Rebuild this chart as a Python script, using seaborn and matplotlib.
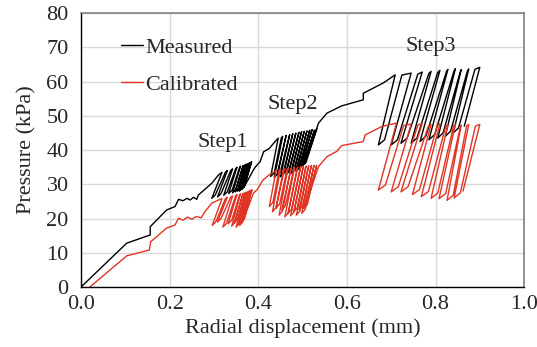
import pandas as pd
import matplotlib
matplotlib.use('Agg')
import matplotlib.pyplot as plt
import seaborn as sns

# ---- Measured (black) ----
meas_ramp_x = [0.0, 0.103, 0.156, 0.156, 0.193, 0.212, 0.220, 0.230, 0.239, 0.246, 0.254, 0.261, 0.265, 0.295, 0.310]
meas_ramp_y = [0.0, 12.8, 15.2, 17.6, 22.5, 23.5, 25.6, 25.2, 25.9, 25.4, 26.2, 25.6, 26.9, 30.3, 32.7]

# each cycle: peak -> valley (unloading) -> foot -> reload top -> next peak
meas_s1_peak_x = [0.318, 0.330, 0.342, 0.352, 0.360, 0.366, 0.371, 0.375, 0.379, 0.382, 0.385]
meas_s1_peak_y = [33.5, 34.0, 34.5, 35.0, 35.3, 35.5, 35.8, 36.0, 36.2, 36.4, 36.6]
meas_s1_val_x = [0.295, 0.308, 0.322, 0.333, 0.342, 0.348, 0.353, 0.357, 0.360, 0.363, 0.367]
meas_s1_val_y = [25.9, 26.3, 26.8, 27.3, 27.5, 27.8, 28.0, 28.0, 28.3, 28.5, 29.0]
meas_s1_foot_x = [0.303, 0.316, 0.330, 0.341, 0.349, 0.355, 0.359, 0.363, 0.366, 0.369]
meas_s1_foot_y = [26.9, 27.3, 27.8, 28.3, 28.5, 28.8, 29.0, 29.0, 29.3, 29.5]
meas_s1_top_x = [0.326, 0.338, 0.349, 0.358, 0.365, 0.370, 0.374, 0.378, 0.381, 0.384]
meas_s1_top_y = [33.6, 34.1, 34.6, 35.0, 35.2, 35.5, 35.7, 35.9, 36.1, 36.3]

meas_t12_x = [0.389, 0.393, 0.404, 0.412, 0.425, 0.438]
meas_t12_y = [34.2, 35.0, 36.6, 39.5, 40.5, 42.5]

meas_s2_peak_x = [0.445, 0.455, 0.463, 0.471, 0.478, 0.485, 0.492, 0.498, 0.504, 0.510, 0.516, 0.522, 0.527, 0.532]
meas_s2_peak_y = [43.5, 44.0, 44.3, 44.5, 44.8, 45.0, 45.2, 45.4, 45.5, 45.6, 45.8, 46.0, 45.8, 46.2]
meas_s2_val_x = [0.428, 0.436, 0.442, 0.450, 0.456, 0.462, 0.468, 0.474, 0.480, 0.485, 0.490, 0.495, 0.500, 0.505]
meas_s2_val_y = [32.3, 32.0, 32.7, 32.2, 33.2, 32.8, 33.7, 33.2, 34.2, 33.8, 34.5, 35.0, 35.5, 36.0]
meas_s2_foot_x = [0.436, 0.444, 0.450, 0.458, 0.464, 0.470, 0.476, 0.482, 0.488, 0.493, 0.498, 0.503, 0.508]
meas_s2_foot_y = [33.3, 33.0, 33.7, 33.2, 34.2, 33.8, 34.7, 34.2, 35.2, 34.8, 35.5, 36.0, 36.5]
meas_s2_top_x = [0.452, 0.462, 0.470, 0.477, 0.484, 0.491, 0.497, 0.503, 0.509, 0.515, 0.520, 0.526, 0.531]
meas_s2_top_y = [43.6, 43.9, 44.2, 44.5, 44.7, 44.9, 45.1, 45.2, 45.3, 45.5, 45.7, 45.6, 45.9]

meas_t23_x = [0.536, 0.555, 0.588, 0.637, 0.637, 0.682]
meas_t23_y = [47.9, 50.8, 52.9, 54.7, 56.6, 59.6]

meas_s3_peak_x = [0.709, 0.745, 0.770, 0.790, 0.810, 0.828, 0.845, 0.858, 0.875, 0.900]
meas_s3_peak_y = [62.0, 62.5, 62.8, 63.0, 63.3, 63.6, 63.8, 63.5, 63.7, 64.2]
meas_s3_val_x = [0.671, 0.700, 0.722, 0.745, 0.765, 0.785, 0.805, 0.822, 0.840, 0.865]
meas_s3_val_y = [41.5, 41.5, 42.0, 42.0, 42.5, 43.0, 43.5, 44.0, 45.0, 47.0]
meas_s3_foot_x = [0.685, 0.714, 0.736, 0.758, 0.778, 0.798, 0.817, 0.834, 0.852]
meas_s3_foot_y = [43.0, 43.0, 43.5, 43.5, 44.0, 44.5, 45.0, 45.5, 46.5]
meas_s3_top_x = [0.724, 0.760, 0.785, 0.805, 0.825, 0.842, 0.856, 0.872, 0.889]
meas_s3_top_y = [61.9, 62.2, 62.4, 62.7, 63.0, 63.2, 62.9, 63.1, 63.6]

# ---- Calibrated (red) ----
cal_ramp_x = [0.020, 0.103, 0.154, 0.157, 0.193, 0.212, 0.220, 0.230, 0.240, 0.250, 0.260, 0.271, 0.279, 0.295, 0.310]
cal_ramp_y = [0.0, 9.1, 10.8, 13.2, 17.2, 18.1, 20.1, 19.5, 20.4, 19.8, 20.6, 20.2, 21.9, 24.5, 25.4]

cal_s1_peak_x = [0.318, 0.330, 0.342, 0.352, 0.360, 0.366, 0.371, 0.375, 0.379, 0.382, 0.386]
cal_s1_peak_y = [25.8, 26.2, 26.6, 27.0, 27.2, 27.4, 27.6, 27.8, 28.0, 28.2, 28.4]
cal_s1_val_x = [0.296, 0.308, 0.320, 0.332, 0.340, 0.346, 0.350, 0.354, 0.358, 0.362, 0.366]
cal_s1_val_y = [18.0, 19.0, 17.5, 18.5, 17.8, 18.8, 17.5, 18.5, 18.0, 19.0, 19.5]
cal_s1_foot_x = [0.304, 0.316, 0.328, 0.340, 0.347, 0.353, 0.357, 0.361, 0.365, 0.369]
cal_s1_foot_y = [19.0, 20.0, 18.5, 19.5, 18.8, 19.8, 18.5, 19.5, 19.0, 20.0]
cal_s1_top_x = [0.326, 0.338, 0.349, 0.358, 0.365, 0.370, 0.374, 0.378, 0.381, 0.384]
cal_s1_top_y = [25.9, 26.3, 26.7, 27.0, 27.2, 27.4, 27.6, 27.8, 28.0, 28.2]

cal_t12_x = [0.389, 0.398, 0.410, 0.427]
cal_t12_y = [27.4, 28.5, 31.2, 33.0]

cal_s2_peak_x = [0.440, 0.450, 0.459, 0.467, 0.475, 0.482, 0.489, 0.496, 0.502, 0.508, 0.514, 0.520, 0.526, 0.532]
cal_s2_peak_y = [34.0, 34.3, 34.5, 34.6, 34.8, 35.0, 35.0, 35.2, 35.2, 35.3, 35.4, 35.5, 35.5, 35.5]
cal_s2_val_x = [0.425, 0.432, 0.440, 0.447, 0.453, 0.460, 0.467, 0.473, 0.480, 0.486, 0.492, 0.498, 0.503, 0.508]
cal_s2_val_y = [23.5, 22.0, 23.0, 21.0, 22.5, 20.5, 21.5, 20.8, 22.0, 21.0, 22.5, 21.5, 23.0, 24.5]
cal_s2_foot_x = [0.433, 0.440, 0.448, 0.455, 0.461, 0.468, 0.475, 0.481, 0.488, 0.494, 0.500, 0.506, 0.511]
cal_s2_foot_y = [24.7, 23.2, 24.2, 22.2, 23.7, 21.7, 22.7, 22.0, 23.2, 22.2, 23.7, 22.7, 24.2]
cal_s2_top_x = [0.447, 0.457, 0.465, 0.473, 0.481, 0.488, 0.495, 0.501, 0.507, 0.513, 0.519, 0.525, 0.531]
cal_s2_top_y = [34.1, 34.3, 34.4, 34.6, 34.8, 34.8, 35.0, 35.0, 35.1, 35.2, 35.3, 35.3, 35.4]

cal_t23_x = [0.536, 0.555, 0.577, 0.588, 0.637, 0.641, 0.679]
cal_t23_y = [35.2, 38.1, 39.6, 41.3, 42.5, 44.4, 46.9]

cal_s3_peak_x = [0.712, 0.745, 0.770, 0.790, 0.810, 0.828, 0.845, 0.858, 0.875, 0.900]
cal_s3_peak_y = [47.9, 47.6, 47.8, 47.5, 47.7, 47.4, 47.6, 47.3, 47.5, 47.5]
cal_s3_val_x = [0.671, 0.700, 0.722, 0.748, 0.768, 0.790, 0.808, 0.826, 0.842, 0.862]
cal_s3_val_y = [28.3, 27.8, 27.8, 27.0, 26.4, 25.9, 25.8, 25.3, 26.0, 28.0]
cal_s3_foot_x = [0.687, 0.716, 0.738, 0.764, 0.784, 0.805, 0.823, 0.840, 0.856]
cal_s3_foot_y = [29.8, 29.3, 29.3, 28.5, 27.9, 27.4, 27.3, 26.8, 27.5]
cal_s3_top_x = [0.728, 0.760, 0.784, 0.804, 0.823, 0.841, 0.856, 0.870, 0.890]
cal_s3_top_y = [47.2, 47.3, 47.0, 47.2, 46.9, 47.1, 46.8, 47.0, 47.0]

step_labels = ['Step1', 'Step2', 'Step3']
step_label_x = [0.319, 0.479, 0.790]
step_label_y = [42.1, 53.2, 70.3]


def loops(px, py, vx, vy, fx, fy, tx, ty):
    # peak -> valley (unloading) -> foot -> reload top -> next peak
    xs, ys = [], []
    for i in range(len(px)):
        xs += [px[i], vx[i]]
        ys += [py[i], vy[i]]
        if i < len(tx):
            xs += [fx[i], tx[i]]
            ys += [fy[i], ty[i]]
    return xs, ys


def build_path(parts):
    xs, ys = [], []
    for part in parts:
        xs += list(part[0])
        ys += list(part[1])
    return pd.DataFrame({'x': xs, 'y': ys})


meas = build_path([
    (meas_ramp_x, meas_ramp_y),
    loops(meas_s1_peak_x, meas_s1_peak_y, meas_s1_val_x, meas_s1_val_y,
          meas_s1_foot_x, meas_s1_foot_y, meas_s1_top_x, meas_s1_top_y),
    (meas_t12_x, meas_t12_y),
    loops(meas_s2_peak_x, meas_s2_peak_y, meas_s2_val_x, meas_s2_val_y,
          meas_s2_foot_x, meas_s2_foot_y, meas_s2_top_x, meas_s2_top_y),
    (meas_t23_x, meas_t23_y),
    loops(meas_s3_peak_x, meas_s3_peak_y, meas_s3_val_x, meas_s3_val_y,
          meas_s3_foot_x, meas_s3_foot_y, meas_s3_top_x, meas_s3_top_y),
])
cal = build_path([
    (cal_ramp_x, cal_ramp_y),
    loops(cal_s1_peak_x, cal_s1_peak_y, cal_s1_val_x, cal_s1_val_y,
          cal_s1_foot_x, cal_s1_foot_y, cal_s1_top_x, cal_s1_top_y),
    (cal_t12_x, cal_t12_y),
    loops(cal_s2_peak_x, cal_s2_peak_y, cal_s2_val_x, cal_s2_val_y,
          cal_s2_foot_x, cal_s2_foot_y, cal_s2_top_x, cal_s2_top_y),
    (cal_t23_x, cal_t23_y),
    loops(cal_s3_peak_x, cal_s3_peak_y, cal_s3_val_x, cal_s3_val_y,
          cal_s3_foot_x, cal_s3_foot_y, cal_s3_top_x, cal_s3_top_y),
])

sns.set_style('whitegrid', {'grid.color': '#d9d9d9', 'axes.edgecolor': '#000000'})
plt.rcParams['font.family'] = ['Liberation Serif', 'DejaVu Serif']
plt.rcParams['font.size'] = 16

fig = plt.figure(figsize=(5.37, 3.47), dpi=100)
ax = fig.add_axes([0.151, 0.173, 0.825, 0.789])

sns.lineplot(data=meas, x='x', y='y', sort=False, estimator=None, color='black',
             lw=1.0, label='Measured', ax=ax)
sns.lineplot(data=cal, x='x', y='y', sort=False, estimator=None, color='#e03424',
             lw=1.0, label='Calibrated', ax=ax)

for t, x, y in zip(step_labels, step_label_x, step_label_y):
    ax.text(x, y, t, ha='center', va='center', fontsize=16)

ax.set_xlim(0, 1.0)
ax.set_ylim(0, 80)
ax.set_xticks([0, 0.2, 0.4, 0.6, 0.8, 1.0])
ax.set_xticklabels(['0.0', '0.2', '0.4', '0.6', '0.8', '1.0'])
ax.set_yticks(range(0, 81, 10))
ax.set_xlabel('Radial displacement (mm)', fontsize=16, labelpad=3)
ax.set_ylabel('Pressure (kPa)', fontsize=16, labelpad=7)
ax.tick_params(direction='in', length=4, width=1, color='#404040', labelsize=16)
ax.tick_params(axis='x', pad=6)
ax.tick_params(axis='y', pad=9)
ax.grid(True, lw=1.0)
for s in ['left', 'bottom']:
    ax.spines[s].set_color('black')
    ax.spines[s].set_linewidth(1.0)
for s in ['top', 'right']:
    ax.spines[s].set_color('#808080')
    ax.spines[s].set_linewidth(1.2)

ax.legend(loc='upper left', bbox_to_anchor=(0.045, 0.985), frameon=False,
          handlelength=1.0, handletextpad=0.1, labelspacing=0.75, fontsize=16)

fig.savefig('out.png', dpi=100)
